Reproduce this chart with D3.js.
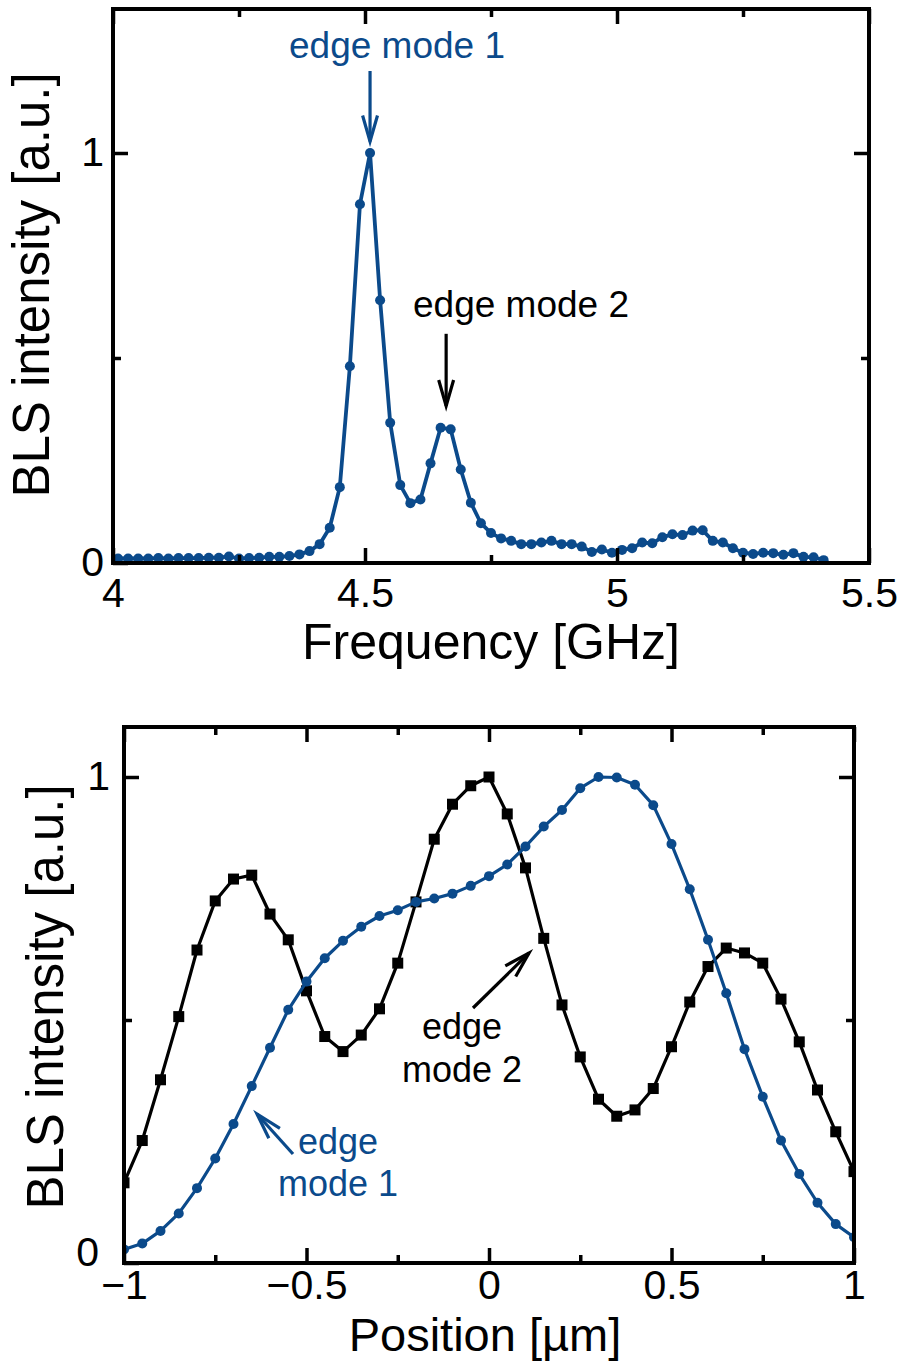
<!DOCTYPE html>
<html>
<head>
<meta charset="utf-8">
<script src="https://cdn.jsdelivr.net/npm/d3@7"></script>
<style>
  body { margin: 0; background: #fff; }
  text { font-family: "Liberation Sans", Arial, Helvetica, sans-serif; }
</style>
</head>
<body>
<svg id="fig" width="903" height="1362"></svg>
<script>
// ---------- data: BLS spectrum ----------
const freqGHz = [4.01,4.03,4.05,4.07,4.09,4.11,4.13,4.15,4.17,4.19,4.21,4.23,4.25,4.27,4.29,4.31,4.33,4.35,4.37,4.39,
  4.41,4.43,4.45,4.47,4.49,4.51,4.53,4.55,4.57,4.59,4.61,4.63,4.65,4.67,4.69,4.71,4.73,4.75,4.77,4.79,
  4.81,4.83,4.85,4.87,4.89,4.91,4.93,4.95,4.97,4.99,5.01,5.03,5.05,5.07,5.09,5.11,5.13,5.15,5.17,5.19,
  5.21,5.23,5.25,5.27,5.29,5.31,5.33,5.35,5.37,5.39,5.41];
const spectrum = [0.011,0.011,0.011,0.011,0.012,0.011,0.012,0.012,0.012,0.013,0.013,
  0.016,0.011,0.012,0.013,0.015,0.015,0.017,0.021,0.029,0.046,
  0.086,0.185,0.48,0.875,1.0,0.641,0.342,0.19,0.146,0.155,
  0.243,0.33,0.326,0.228,0.147,0.097,0.073,0.06,0.054,0.046,
  0.046,0.05,0.054,0.046,0.046,0.04,0.027,0.033,0.025,0.032,
  0.036,0.05,0.048,0.063,0.07,0.068,0.079,0.08,0.054,0.05,
  0.036,0.025,0.022,0.025,0.024,0.02,0.024,0.015,0.014,0.007];

// ---------- data: spatial profiles ----------
const positionUm = [-1,-0.95,-0.9,-0.85,-0.8,-0.75,-0.7,-0.65,-0.6,-0.55,-0.5,-0.45,-0.4,-0.35,-0.3,-0.25,-0.2,-0.15,-0.1,-0.05,
  0,0.05,0.1,0.15,0.2,0.25,0.3,0.35,0.4,0.45,0.5,0.55,0.6,0.65,0.7,0.75,0.8,0.85,0.9,0.95,1];
const edgeMode1 = [0.028,0.040,0.066,0.102,0.154,0.215,0.286,0.364,0.443,0.521,0.579,0.627,0.663,0.692,0.714,0.726,0.743,0.750,0.760,0.776,
  0.796,0.820,0.857,0.898,0.932,0.977,1.0,0.999,0.984,0.942,0.862,0.769,0.665,0.555,0.440,0.342,0.252,0.183,0.124,0.080,0.053];
const edgeMode2 = [0.165,0.252,0.377,0.507,0.644,0.745,0.790,0.798,0.718,0.665,0.560,0.466,0.435,0.469,0.523,0.617,0.743,0.872,0.944,0.982,
  1.0,0.924,0.813,0.668,0.531,0.424,0.337,0.302,0.315,0.359,0.445,0.537,0.610,0.648,0.638,0.617,0.543,0.455,0.356,0.270,0.188];

// ---------- ticks ----------
const freqMajor = [4, 4.5, 5, 5.5];
const freqMajorLabels = ["4", "4.5", "5", "5.5"];
const freqMinor = [4.25, 4.75, 5.25];
const posMajor = [-1, -0.5, 0, 0.5, 1];
const posMajorLabels = ["\u22121", "\u22120.5", "0", "0.5", "1"];
const posMinor = [-0.75, -0.25, 0.25, 0.75];
const intensityMajor = [0, 1];
const intensityLabels = ["0", "1"];
const intensityMinor = [0.5];

const BLUE = "#0b4a8b";
const svg = d3.select("#fig");

function arrow(g, x1, y1, x2, y2, color) {
  const ang = Math.atan2(y2 - y1, x2 - x1);
  const L = 27, spread = 16 * Math.PI / 180;
  const w1 = [x2 - L * Math.cos(ang - spread), y2 - L * Math.sin(ang - spread)];
  const w2 = [x2 - L * Math.cos(ang + spread), y2 - L * Math.sin(ang + spread)];
  g.append("line").attr("x1", x1).attr("y1", y1).attr("x2", x2).attr("y2", y2)
    .attr("stroke", color).attr("stroke-width", 3.2);
  g.append("path").attr("d", `M${w1[0]},${w1[1]}L${x2},${y2}L${w2[0]},${w2[1]}`)
    .attr("fill", "none").attr("stroke", color).attr("stroke-width", 3.2)
    .attr("stroke-linejoin", "miter");
}

function styleAxis(sel) {
  sel.select(".domain").remove();
  sel.selectAll(".tick line").attr("stroke", "#000").attr("stroke-width", 3.5);
}

function panel(cfg) {
  const g = svg.append("g");
  const { x, y, xMajor, xLabels, xMinor, yMajor, yLabels, yMinor } = cfg;
  const [x0, x1] = x.range();
  const yb = y(0), yt = cfg.top;

  const clipId = cfg.id + "-clip";
  g.append("clipPath").attr("id", clipId).append("rect")
    .attr("x", x0).attr("y", yt).attr("width", x1 - x0).attr("height", yb - yt);
  const plot = g.append("g").attr("clip-path", `url(#${clipId})`);

  // axes (ticks pointing inward)
  const bottom = g.append("g").attr("transform", `translate(0,${yb})`)
    .call(d3.axisBottom(x).tickValues(xMajor).tickSize(-15).tickFormat((d, i) => xLabels[i]));
  styleAxis(bottom);
  bottom.selectAll(".tick text").attr("y", cfg.xLabelDy).attr("dy", null)
    .attr("font-size", 41).attr("fill", "#000").attr("font-family", null);
  g.append("g").attr("transform", `translate(0,${yb})`)
    .call(d3.axisBottom(x).tickValues(xMinor).tickSize(-8).tickFormat("")).call(styleAxis);
  g.append("g").attr("transform", `translate(0,${yt})`)
    .call(d3.axisTop(x).tickValues(xMajor).tickSize(-15).tickFormat("")).call(styleAxis);
  g.append("g").attr("transform", `translate(0,${yt})`)
    .call(d3.axisTop(x).tickValues(xMinor).tickSize(-8).tickFormat("")).call(styleAxis);

  const left = g.append("g").attr("transform", `translate(${x0},0)`)
    .call(d3.axisLeft(y).tickValues(yMajor).tickSize(-15).tickFormat((d, i) => yLabels[i]));
  styleAxis(left);
  left.selectAll(".tick text")
    .attr("x", d => -(d === 0 ? cfg.zeroLabelGap : cfg.yLabelGap))
    .attr("dy", d => (d === 0 ? cfg.zeroLabelDy : "0.3em"))
    .attr("font-size", 41).attr("fill", "#000").attr("font-family", null);
  g.append("g").attr("transform", `translate(${x0},0)`)
    .call(d3.axisLeft(y).tickValues(yMinor).tickSize(-8).tickFormat("")).call(styleAxis);
  g.append("g").attr("transform", `translate(${x1},0)`)
    .call(d3.axisRight(y).tickValues(yMajor.filter(v => v > 0)).tickSize(-15).tickFormat("")).call(styleAxis);
  g.append("g").attr("transform", `translate(${x1},0)`)
    .call(d3.axisRight(y).tickValues(yMinor).tickSize(-8).tickFormat("")).call(styleAxis);

  // frame
  g.append("rect").attr("x", x0).attr("y", yt).attr("width", x1 - x0).attr("height", yb - yt)
    .attr("fill", "none").attr("stroke", "#000").attr("stroke-width", 4);

  // titles
  g.append("text").attr("x", cfg.xTitlePos[0]).attr("y", cfg.xTitlePos[1])
    .attr("text-anchor", "middle").attr("font-size", cfg.xTitleSize).text(cfg.xTitle);
  g.append("text").attr("transform", `translate(${cfg.yTitlePos[0]},${cfg.yTitlePos[1]}) rotate(-90)`)
    .attr("text-anchor", "middle").attr("font-size", 51).text("BLS intensity [a.u.]");

  return { g, plot };
}

// ================= upper panel: spectrum =================
const xF = d3.scaleLinear().domain([4, 5.5]).range([113, 869]);
const yF = d3.scaleLinear().domain([0, 1]).range([563, 153]);
const specPanel = panel({
  id: "spec", x: xF, y: yF, top: 9,
  xMajor: freqMajor, xLabels: freqMajorLabels, xMinor: freqMinor,
  yMajor: intensityMajor, yLabels: intensityLabels, yMinor: intensityMinor,
  xLabelDy: 44, yLabelGap: 9, zeroLabelGap: 9, zeroLabelDy: "0.3em",
  xTitle: "Frequency [GHz]", xTitleSize: 50, xTitlePos: [491, 659], yTitlePos: [49, 285]
});
const specData = freqGHz.map((f, i) => [f, spectrum[i]]);
specPanel.plot.append("path").datum(specData)
  .attr("d", d3.line().x(d => xF(d[0])).y(d => yF(d[1])))
  .attr("fill", "none").attr("stroke", BLUE).attr("stroke-width", 3.8).attr("stroke-linejoin", "round");
specPanel.plot.selectAll("circle.spec").data(specData).join("circle").attr("class", "spec")
  .attr("cx", d => xF(d[0])).attr("cy", d => yF(d[1])).attr("r", 5).attr("fill", BLUE);

const ann = svg.append("g");
ann.append("text").attr("x", 397).attr("y", 58).attr("text-anchor", "middle")
  .attr("font-size", 37).attr("fill", BLUE).text("edge mode 1");
arrow(ann, xF(4.51), yF(1.2), xF(4.51), yF(1.028), BLUE);
ann.append("text").attr("x", 521).attr("y", 317).attr("text-anchor", "middle")
  .attr("font-size", 37).attr("fill", "#000").text("edge mode 2");
arrow(ann, xF(4.661), yF(0.559), xF(4.661), yF(0.383), "#000");

// ================= lower panel: spatial profiles =================
const xP = d3.scaleLinear().domain([-1, 1]).range([124, 854]);
const yP = d3.scaleLinear().domain([0, 1]).range([1263, 777]);
const profPanel = panel({
  id: "prof", x: xP, y: yP, top: 727,
  xMajor: posMajor, xLabels: posMajorLabels, xMinor: posMinor,
  yMajor: intensityMajor, yLabels: intensityLabels, yMinor: intensityMinor,
  xLabelDy: 36, yLabelGap: 14, zeroLabelGap: 25, zeroLabelDy: "0.05em",
  xTitle: "Position [\u00b5m]", xTitleSize: 47, xTitlePos: [485, 1351], yTitlePos: [63, 997]
});
const m2 = positionUm.map((p, i) => [p, edgeMode2[i]]);
const m1 = positionUm.map((p, i) => [p, edgeMode1[i]]);
const lineP = d3.line().x(d => xP(d[0])).y(d => yP(d[1]));
profPanel.plot.append("path").datum(m2).attr("d", lineP)
  .attr("fill", "none").attr("stroke", "#000").attr("stroke-width", 3.2).attr("stroke-linejoin", "round");
profPanel.plot.selectAll("rect.m2").data(m2).join("rect").attr("class", "m2")
  .attr("x", d => xP(d[0]) - 5.5).attr("y", d => yP(d[1]) - 5.5)
  .attr("width", 11).attr("height", 11).attr("fill", "#000");
profPanel.plot.append("path").datum(m1).attr("d", lineP)
  .attr("fill", "none").attr("stroke", BLUE).attr("stroke-width", 3.2).attr("stroke-linejoin", "round");
profPanel.plot.selectAll("circle.m1").data(m1).join("circle").attr("class", "m1")
  .attr("cx", d => xP(d[0])).attr("cy", d => yP(d[1])).attr("r", 5).attr("fill", BLUE);

const ann2 = svg.append("g");
ann2.append("text").attr("x", 462).attr("y", 1039).attr("text-anchor", "middle")
  .attr("font-size", 36).attr("fill", "#000").text("edge");
ann2.append("text").attr("x", 462).attr("y", 1082).attr("text-anchor", "middle")
  .attr("font-size", 36).attr("fill", "#000").text("mode 2");
arrow(ann2, 473, 1008, 529, 953, "#000");
ann2.append("text").attr("x", 338).attr("y", 1154).attr("text-anchor", "middle")
  .attr("font-size", 36).attr("fill", BLUE).text("edge");
ann2.append("text").attr("x", 338).attr("y", 1196).attr("text-anchor", "middle")
  .attr("font-size", 36).attr("fill", BLUE).text("mode 1");
arrow(ann2, 293, 1154, 257, 1114, BLUE);
</script>
</body>
</html>
